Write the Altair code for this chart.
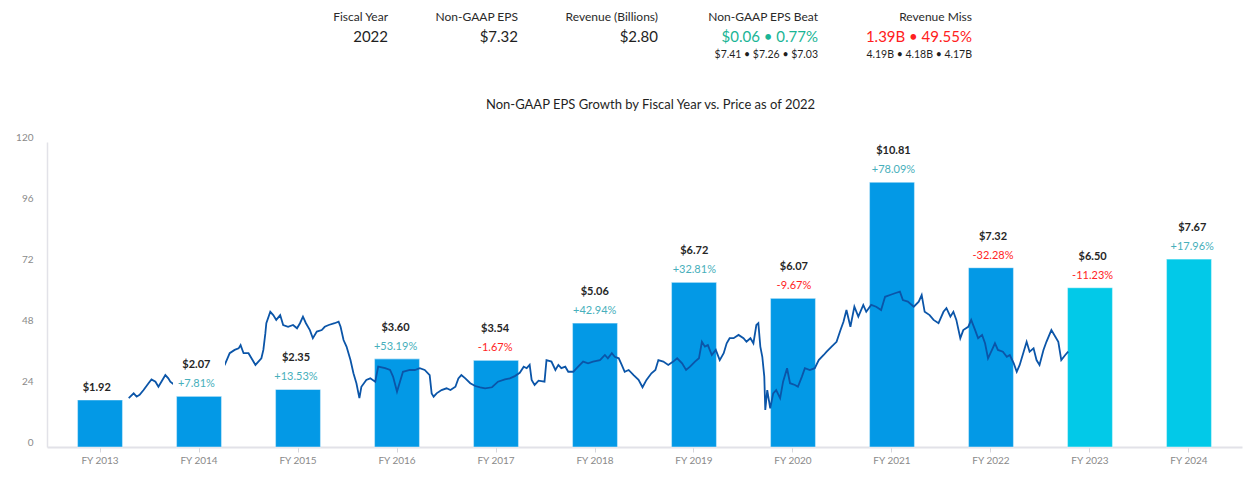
import altair as alt
import pandas as pd

# ---------------- data ----------------
years = ["FY 2013", "FY 2014", "FY 2015", "FY 2016", "FY 2017", "FY 2018",
         "FY 2019", "FY 2020", "FY 2021", "FY 2022", "FY 2023", "FY 2024"]
eps = [1.92, 2.07, 2.35, 3.60, 3.54, 5.06, 6.72, 6.07, 10.81, 7.32, 6.50, 7.67]
eps_text = ["$1.92", "$2.07", "$2.35", "$3.60", "$3.54", "$5.06", "$6.72", "$6.07",
            "$10.81", "$7.32", "$6.50", "$7.67"]
growth = ["", "+7.81%", "+13.53%", "+53.19%", "-1.67%", "+42.94%", "+32.81%", "-9.67%",
          "+78.09%", "-32.28%", "-11.23%", "+17.96%"]
kind = ["Actual"] * 10 + ["Estimate"] * 2

# share price (fractional fiscal year, price in $)
price_t = [
    2013.29, 2013.34, 2013.37, 2013.40, 2013.44, 2013.49, 2013.52, 2013.56, 2013.59, 2013.62, 2013.66, 2013.69, 2013.71, 2013.74,
    2014.26, 2014.31, 2014.36, 2014.40, 2014.42, 2014.45, 2014.50, 2014.53, 2014.57, 2014.60, 2014.63, 2014.65, 2014.67, 2014.68,
    2014.72, 2014.75, 2014.78, 2014.82, 2014.85, 2014.90, 2014.95, 2014.99,
    2015.02, 2015.05, 2015.08, 2015.12, 2015.15, 2015.19, 2015.24, 2015.27, 2015.31, 2015.37, 2015.41, 2015.43, 2015.46, 2015.49,
    2015.53, 2015.56, 2015.59, 2015.62, 2015.64, 2015.69, 2015.73, 2015.78, 2015.81, 2015.88, 2015.93, 2015.96,
    2016.00, 2016.03, 2016.06, 2016.13, 2016.18, 2016.23, 2016.28, 2016.33, 2016.35, 2016.37, 2016.40, 2016.45, 2016.50, 2016.54,
    2016.59, 2016.62, 2016.65, 2016.69, 2016.74, 2016.79, 2016.84, 2016.89, 2016.96,
    2017.02, 2017.09, 2017.14, 2017.19, 2017.24, 2017.28, 2017.31, 2017.34, 2017.36, 2017.39, 2017.43, 2017.49, 2017.51, 2017.56,
    2017.60, 2017.63, 2017.66, 2017.70, 2017.73, 2017.78, 2017.83, 2017.88, 2017.93, 2017.98,
    2018.05, 2018.10, 2018.13, 2018.17, 2018.20, 2018.24, 2018.27, 2018.30, 2018.34, 2018.39, 2018.44, 2018.48, 2018.52, 2018.57,
    2018.61, 2018.64, 2018.69, 2018.74, 2018.79, 2018.83, 2018.88, 2018.92, 2018.96,
    2019.01, 2019.05, 2019.08, 2019.11, 2019.14, 2019.18, 2019.22, 2019.26, 2019.30, 2019.33, 2019.36, 2019.40, 2019.45, 2019.50,
    2019.53, 2019.57, 2019.60, 2019.63, 2019.65, 2019.67, 2019.69, 2019.71, 2019.72, 2019.74, 2019.77, 2019.80, 2019.83, 2019.87,
    2019.90, 2019.94, 2019.97,
    2020.02, 2020.05, 2020.09, 2020.12, 2020.17, 2020.22, 2020.26, 2020.31, 2020.34, 2020.39, 2020.44, 2020.48, 2020.51, 2020.54,
    2020.58, 2020.62, 2020.66, 2020.71, 2020.74, 2020.79, 2020.84, 2020.89, 2020.93, 2020.98,
    2021.03, 2021.08, 2021.11, 2021.16, 2021.22, 2021.27, 2021.30, 2021.33, 2021.38, 2021.42, 2021.47, 2021.52, 2021.55, 2021.59,
    2021.62, 2021.65, 2021.69, 2021.72, 2021.77, 2021.80, 2021.84, 2021.87, 2021.91, 2021.94, 2021.97,
    2022.01, 2022.04, 2022.07, 2022.12, 2022.16, 2022.19, 2022.23, 2022.26, 2022.29, 2022.33, 2022.36, 2022.39, 2022.43, 2022.46,
    2022.49, 2022.53, 2022.56, 2022.61, 2022.65, 2022.68, 2022.71, 2022.75, 2022.78,
]
price_v = [
    19.2, 21.1, 19.8, 20.5, 22.4, 25.1, 26.6, 25.7, 23.7, 25.7, 28.3, 27.0, 25.7, 24.8,
    32.3, 36.9, 38.2, 38.8, 40.1, 36.9, 36.9, 34.9, 32.3, 33.6, 34.9, 38.2, 44.7, 48.7,
    53.2, 51.9, 50.0, 51.9, 48.0, 47.3, 48.0, 46.7,
    48.7, 51.3, 48.7, 46.0, 42.8, 45.4, 46.0, 47.3, 48.0, 48.7, 49.3, 47.3, 42.1, 39.5,
    34.2, 29.0, 25.1, 19.2, 23.7, 26.4, 27.0, 25.7, 31.6, 31.0, 30.3, 27.7,
    21.8, 25.7, 29.6, 30.3, 30.3, 31.0, 30.3, 28.3, 21.1, 19.8, 21.1, 22.4, 23.1, 22.4,
    23.7, 27.0, 28.3, 27.0, 25.1, 24.0, 23.5, 23.1, 23.5,
    25.7, 26.6, 27.0, 27.9, 29.2, 31.6, 31.0, 32.3, 26.4, 24.4, 26.1, 25.7, 34.2, 33.6,
    30.3, 32.3, 31.0, 31.6, 29.6, 29.6, 31.6, 33.6, 32.9, 33.6,
    34.2, 36.2, 34.9, 36.9, 35.5, 34.9, 32.3, 29.6, 30.3, 28.3, 26.4, 23.5, 26.4, 29.0,
    30.3, 34.2, 33.6, 32.3, 33.6, 34.9, 32.9, 30.3, 31.6,
    33.6, 34.9, 41.4, 39.5, 40.1, 36.2, 38.2, 34.2, 36.9, 40.8, 42.8, 42.8, 44.1, 42.8,
    41.4, 42.8, 40.8, 48.0, 48.7, 39.5, 35.5, 27.7, 14.6, 22.4, 15.2, 21.1, 22.4, 19.2,
    25.7, 31.0, 25.1,
    24.4, 23.7, 27.7, 31.0, 30.3, 31.0, 34.2, 36.2, 37.5, 39.5, 41.4, 46.0, 49.3, 53.9,
    47.3, 55.2, 51.3, 55.9, 53.2, 55.9, 55.2, 53.9, 59.1, 59.8,
    60.5, 61.1, 57.8, 57.2, 55.2, 57.2, 59.8, 53.2, 51.9, 50.0, 48.7, 53.2, 54.6, 51.3,
    53.2, 50.0, 42.8, 46.0, 47.3, 50.0, 46.0, 42.8, 44.1, 40.8, 34.9,
    38.2, 40.8, 38.2, 37.5, 35.5, 36.2, 32.9, 29.6, 32.3, 37.5, 41.4, 37.5, 38.8, 34.2,
    32.3, 38.2, 41.4, 46.0, 43.4, 41.4, 34.2, 36.2, 37.5,
]
assert len(price_t) == len(price_v)

# header summary
header_labels = ["Fiscal Year", "Non-GAAP EPS", "Revenue (Billions)", "Non-GAAP EPS Beat", "Revenue Miss"]
header_values = ["2022", "$7.32", "$2.80", "$0.06 \u2022 0.77%", "1.39B \u2022 49.55%"]
header_details = ["", "", "", "$7.41 \u2022 $7.26 \u2022 $7.03", "4.19B \u2022 4.18B \u2022 4.17B"]
title_text = "Non-GAAP EPS Growth by Fiscal Year vs. Price as of 2022"

# ---------------- layout / style ----------------
FONT = "Lato"
W, H = 1195, 305
PAD = {"left": 47, "top": 142, "right": 1, "bottom": 38}
P_IN, P_OUT = 0.545, 0.308
half = P_OUT + (1 - P_IN) / 2
EPS_MAX = 12.45

bars_df = pd.DataFrame({"year": years, "eps": eps, "eps_text": eps_text,
                        "growth": growth, "kind": kind,
                        "sign": ["neg" if g.startswith("-") else "pos" for g in growth]})
price_df = pd.DataFrame({"t": price_t, "price": price_v})

band = alt.Scale(domain=years, paddingInner=P_IN, paddingOuter=P_OUT)
eps_scale = alt.Scale(domain=[0, EPS_MAX], nice=False, zero=True)

x_axis = alt.Axis(title=None, labelColor="#8a8a8a", labelFont=FONT, labelFontSize=10,
                  tickColor="#d6d6dc", tickSize=5, labelPadding=3,
                  domainColor="#e2e2e8", domainWidth=2, grid=False, labelAngle=0)

base = alt.Chart(bars_df)

bars = base.mark_bar(stroke="white", strokeOpacity=0.45, strokeWidth=1.2).encode(
    x=alt.X("year:N", sort=years, scale=band, axis=x_axis),
    y=alt.Y("eps:Q", scale=eps_scale, axis=None),
    color=alt.Color("kind:N", scale=alt.Scale(domain=["Actual", "Estimate"],
                                              range=["#0399e6", "#02c9e8"]), legend=None),
)

line = alt.Chart(price_df).mark_line(color="#0b55a8", strokeWidth=1.8).encode(
    x=alt.X("t:Q", scale=alt.Scale(domain=[2013 - half, 2024 + half], nice=False, zero=False), axis=None),
    y=alt.Y("price:Q", scale=alt.Scale(domain=[0, 120], nice=False, zero=True),
            axis=alt.Axis(title=None, values=[0, 24, 48, 72, 96, 120], ticks=False,
                          labelColor="#8a8a8a", labelFont=FONT, labelFontSize=10,
                          labelPadding=14, labelBaseline="bottom",
                          gridColor="#e8e8ed", gridWidth=1.5,
                          domainColor="#e2e2e8", domainWidth=1.5)),
)

xb = alt.X("year:N", sort=years, scale=band, axis=None)

boxes = base.mark_bar(color="white", width=52, yOffset=-42, y2Offset=-3).encode(
    x=xb, y=alt.Y("eps:Q", scale=eps_scale, axis=None), y2="eps:Q")

eps_two = base.transform_filter("datum.growth != ''").mark_text(
    font=FONT, fontSize=11, fontWeight="bold", color="#262626", dy=-31, baseline="middle").encode(
    x=xb, y=alt.Y("eps:Q", scale=eps_scale, axis=None), text="eps_text:N")

eps_one = base.transform_filter("datum.growth == ''").mark_text(
    font=FONT, fontSize=11, fontWeight="bold", color="#262626", dy=-12, baseline="middle").encode(
    x=xb, y=alt.Y("eps:Q", scale=eps_scale, axis=None), text="eps_text:N")

pct = base.transform_filter("datum.growth != ''").mark_text(
    font=FONT, fontSize=11, dy=-12, baseline="middle").encode(
    x=xb, y=alt.Y("eps:Q", scale=eps_scale, axis=None), text="growth:N",
    color=alt.Color("sign:N", scale=alt.Scale(domain=["pos", "neg"], range=["#47afbb", "#ff2424"]),
                    legend=None))

# header & title text (positions relative to plot origin)
one = pd.DataFrame({"k": [0]})
right_edges = [388, 518, 658, 818, 972]
value_colors = ["#1f1f1f", "#1f1f1f", "#1f1f1f", "#19b596", "#ff2020"]
header_layers = []
for i in range(len(header_labels)):
    xr = right_edges[i] - PAD["left"]
    header_layers.append(alt.Chart(one).mark_text(
        align="right", baseline="middle", font=FONT, fontSize=12, color="#2a2a2a").encode(
        x=alt.value(xr), y=alt.value(17 - PAD["top"]), text=alt.value(header_labels[i])))
    header_layers.append(alt.Chart(one).mark_text(
        align="right", baseline="middle", font=FONT, fontSize=15, color=value_colors[i]).encode(
        x=alt.value(xr), y=alt.value(37 - PAD["top"]), text=alt.value(header_values[i])))
    if header_details[i]:
        header_layers.append(alt.Chart(one).mark_text(
            align="right", baseline="middle", font=FONT, fontSize=10.5, color="#1f1f1f").encode(
            x=alt.value(xr), y=alt.value(55 - PAD["top"]), text=alt.value(header_details[i])))

title = alt.Chart(one).mark_text(
    align="center", baseline="middle", font=FONT, fontSize=13, color="#1f1f1f").encode(
    x=alt.value(650.5 - PAD["left"]), y=alt.value(105 - PAD["top"]), text=alt.value(title_text))

chart = alt.layer(bars, line, boxes, eps_two, eps_one, pct, title, *header_layers).resolve_scale(
    x="independent", y="independent", color="independent"
).properties(
    width=W, height=H,
    autosize=alt.AutoSizeParams(type="none"),
    padding=PAD,
    background="white",
).configure_view(stroke=None)

chart.save("out.html", embed_options={"renderer": "svg", "actions": False})
